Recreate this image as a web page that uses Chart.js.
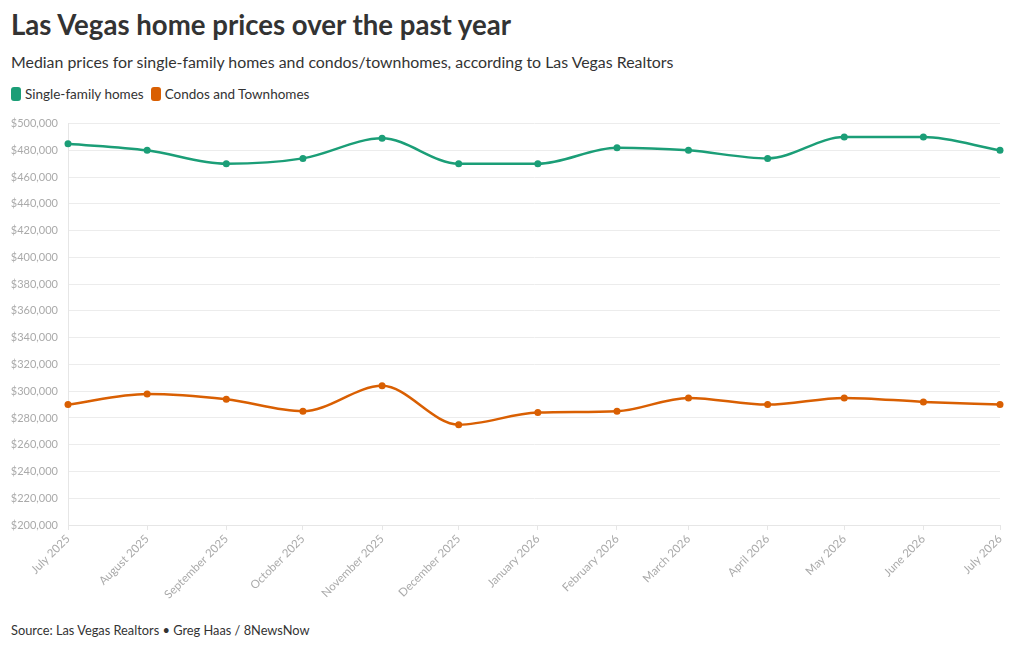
<!DOCTYPE html>
<html>
<head>
<meta charset="utf-8">
<script src="https://cdn.jsdelivr.net/npm/chart.js@4"></script>
<style>
    body { margin: 0; background: #fff; font-family: Lato, "Noto Sans", sans-serif; color: #333; }
    #wrap { position: relative; width: 1020px; height: 650px; }
    h1 { position: absolute; left: 11px; top: 8px; margin: 0; font-size: 27.6px; font-weight: 700; color: #333; }
    .sub { position: absolute; left: 11px; top: 52px; margin: 0; font-size: 15.9px; color: #333; }
    .legend { position: absolute; left: 11px; top: 86px; font-size: 13.5px; color: #333; display: flex; }
    .legend span { display: flex; align-items: center; margin-right: 7px; }
    .legend i { display: inline-block; width: 10px; height: 14px; border-radius: 3px; margin-right: 4px; }
    .source { position: absolute; left: 11px; top: 622px; font-size: 12.8px; color: #333; }
    #box { position: absolute; left: 0; top: 107px; width: 1020px; height: 503px; }
</style>
</head>
<body>
<div id="wrap">
    <h1>Las Vegas home prices over the past year</h1>
    <p class="sub">Median prices for single-family homes and condos/townhomes, according to Las Vegas Realtors</p>
    <div class="legend">
        <span><i style="background:#1b9e77"></i>Single-family homes</span>
        <span><i style="background:#d95f02"></i>Condos and Townhomes</span>
    </div>
    <div id="box"><canvas id="chart"></canvas></div>
    <div class="source">Source: Las Vegas Realtors • Greg Haas / 8NewsNow</div>
</div>
<script>
// month dates and labels
const dates = ["2025-07-01", "2025-08-01", "2025-09-01", "2025-10-01", "2025-11-01", "2025-12-01",
    "2026-01-01", "2026-02-01", "2026-03-01", "2026-04-01", "2026-05-01", "2026-06-01", "2026-07-01"];
const monthLabels = ["July 2025", "August 2025", "September 2025", "October 2025", "November 2025", "December 2025",
    "January 2026", "February 2026", "March 2026", "April 2026", "May 2026", "June 2026", "July 2026"];

// median prices
const singleFamily = [485000, 480000, 470000, 474000, 489000, 470000, 470000, 482000, 480000, 474000, 490000, 490000, 480000];
const condos = [290000, 298000, 294000, 285000, 304000, 275000, 284000, 285000, 295000, 290000, 295000, 292000, 290000];

const yMin = 200000, yMax = 500000, yStep = 20000;

// days since the first month, so months sit at their real spacing like a time axis
const start = Date.parse(dates[0]);
const days = dates.map(d => Math.round((Date.parse(d) - start) / 86400000));

function toPoints(values) {
    return values.map((v, i) => ({ x: days[i], y: v }));
}

function makeSeries(label, values, color) {
    return {
        label: label,
        data: toPoints(values),
        borderColor: color,
        backgroundColor: color,
        borderWidth: 2.5,
        pointRadius: 3.5,
        pointBorderWidth: 0,
        clip: false,
        cubicInterpolationMode: "monotone"
    };
}

new Chart(document.getElementById("chart"), {
    type: "line",
    data: {
        datasets: [
            makeSeries("Single-family homes", singleFamily, "#1b9e77"),
            makeSeries("Condos and Townhomes", condos, "#d95f02")
        ]
    },
    options: {
        responsive: true,
        maintainAspectRatio: false,
        animation: false,
        layout: { padding: { top: 10, right: 20, left: 0, bottom: 0 } },
        plugins: { legend: { display: false }, tooltip: { enabled: false } },
        scales: {
            x: {
                type: "linear",
                min: days[0],
                max: days[days.length - 1],
                afterBuildTicks: axis => { axis.ticks = days.map(d => ({ value: d })); },
                afterFit: axis => { axis.height = 85; },
                border: { color: "#e6e6e6" },
                grid: { drawOnChartArea: false, tickLength: 5, color: "#e6e6e6" },
                ticks: {
                    autoSkip: false,
                    maxRotation: 45,
                    minRotation: 45,
                    padding: 2,
                    color: "#aaaaaa",
                    font: { family: "Lato", size: 11.5 },
                    callback: v => monthLabels[days.indexOf(v)]
                }
            },
            y: {
                min: yMin,
                max: yMax,
                afterFit: axis => { axis.width = 68; },
                border: { color: "#e6e6e6" },
                grid: { color: "#ececec", tickLength: 0 },
                ticks: {
                    stepSize: yStep,
                    padding: 10,
                    color: "#aaaaaa",
                    font: { family: "Lato", size: 11 },
                    callback: v => "$" + v.toLocaleString("en-US")
                }
            }
        }
    }
});
</script>
</body>
</html>
